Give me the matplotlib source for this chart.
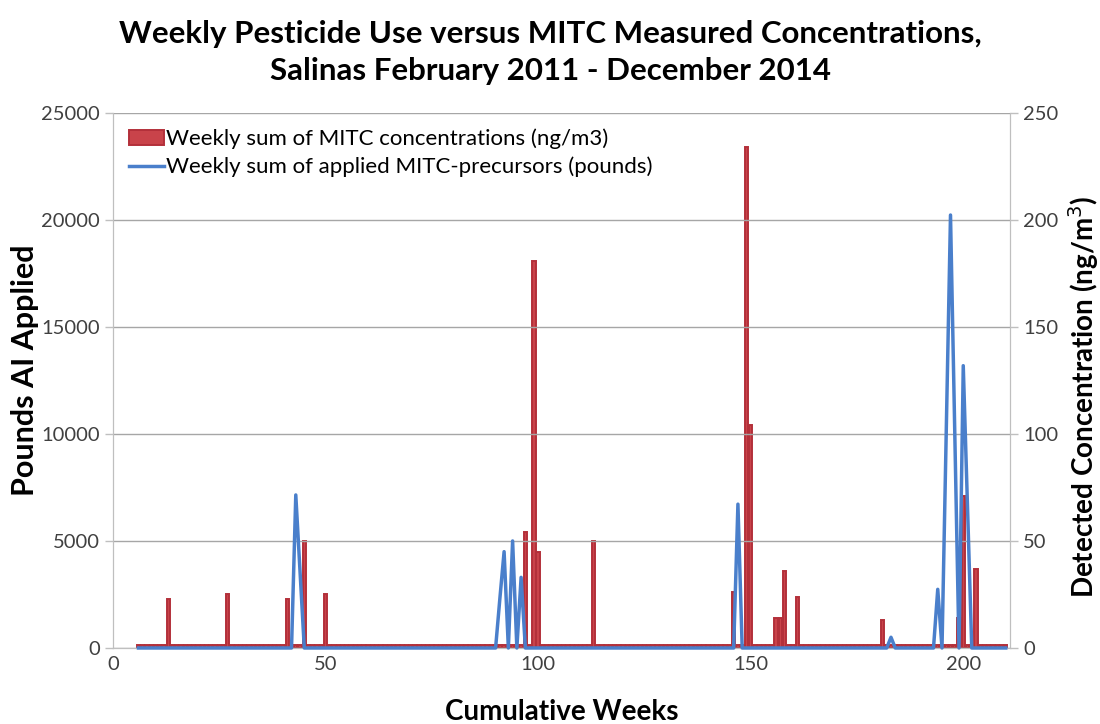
import numpy as np
import matplotlib.pyplot as plt

plt.rcParams['font.family'] = ['Lato', 'DejaVu Sans']

# weeks covered by the monitoring record
first_week = 6
last_week = 210

# weekly sum of MITC concentrations (ng/m3), weeks with detections
conc_weeks = [13, 27, 41, 45, 50, 97, 99, 100, 113, 146, 149, 150,
              156, 157, 158, 161, 181, 199, 200, 203]
conc_vals = [23, 25, 23, 50, 25, 54, 181, 45, 50, 26, 234, 104,
             14, 14, 36, 24, 13, 14, 71, 37]
# level of the other weeks (ng/m3)
conc_floor = 1.5

# weekly sum of applied MITC-precursors (pounds), non-zero weeks
lbs_weeks = [43, 44, 91, 92, 94, 96, 147, 183, 194, 196, 197, 198, 200, 201]
lbs_vals = [7150, 3600, 2300, 4500, 5000, 3300, 6720, 500, 2740,
            10100, 20230, 10100, 13190, 6600]

weeks = np.arange(first_week, last_week + 1)
conc = np.full(len(weeks), conc_floor)
lbs = np.zeros(len(weeks))
for w, v in zip(conc_weeks, conc_vals):
    conc[w - first_week] = v
for w, v in zip(lbs_weeks, lbs_vals):
    lbs[w - first_week] = v

red = '#C9434A'
red_edge = '#B3303A'
blue = '#4A7FCB'
grid = '#A6A6A6'
tick_col = '#404040'

fig = plt.figure(figsize=(11, 7.24), dpi=100)
ax = fig.add_axes([0.1027, 0.105, 0.8155, 0.739])
ax2 = ax.twinx()

bars = ax2.bar(weeks, conc, width=0.8, color=red, edgecolor=red_edge,
               linewidth=1.4, zorder=2,
               label='Weekly sum of MITC concentrations (ng/m3)')
ax2.set_ylim(0, 250)
ax2.set_yticks(np.arange(0, 251, 50))

# blue line drawn above the columns
ax.set_zorder(ax2.get_zorder() + 1)
ax.patch.set_visible(False)
line, = ax.plot(weeks, lbs, color=blue, lw=2.5, zorder=3, clip_on=False,
                label='Weekly sum of applied MITC-precursors (pounds)')
ax.set_ylim(0, 25000)
ax.set_yticks(np.arange(0, 25001, 5000))
ax.set_xlim(0, 211)
ax.set_xticks([0, 50, 100, 150, 200])

ax.grid(axis='y', color=grid, lw=1)
ax.set_axisbelow(True)
ax2.set_axisbelow(True)
for a in (ax, ax2):
    for s in a.spines.values():
        s.set_color('#BFBFBF')
    a.spines['top'].set_visible(False)
    a.tick_params(colors=tick_col, labelsize=14.5, length=6, width=1)
    a.tick_params(axis='y', color='#BFBFBF')
ax.tick_params(axis='x', length=0, pad=6)

ax.set_ylabel('Pounds AI Applied', fontsize=22, fontweight='bold')
ax.yaxis.set_label_coords(-0.082, 0.52)
ax2.set_ylabel('Detected Concentration (ng/m$^3$)', fontsize=20,
               fontweight='bold', rotation=90)
ax2.yaxis.set_label_coords(1.062, 0.47)
ax.set_xlabel('Cumulative Weeks', fontsize=20, fontweight='bold')
ax.xaxis.set_label_coords(0.5, -0.095)

fig.suptitle('Weekly Pesticide Use versus MITC Measured Concentrations,\n'
             'Salinas February 2011 - December 2014',
             fontsize=22.5, fontweight='bold', y=0.972, linespacing=1.4)

ax.legend([bars, line], [bars.get_label(), line.get_label()],
          loc='upper left', bbox_to_anchor=(0.0, 1.0), frameon=False,
          fontsize=16, handlelength=1.6, handletextpad=0.1,
          labelspacing=0.35, borderaxespad=0.3)

fig.savefig('out.png', dpi=100)
